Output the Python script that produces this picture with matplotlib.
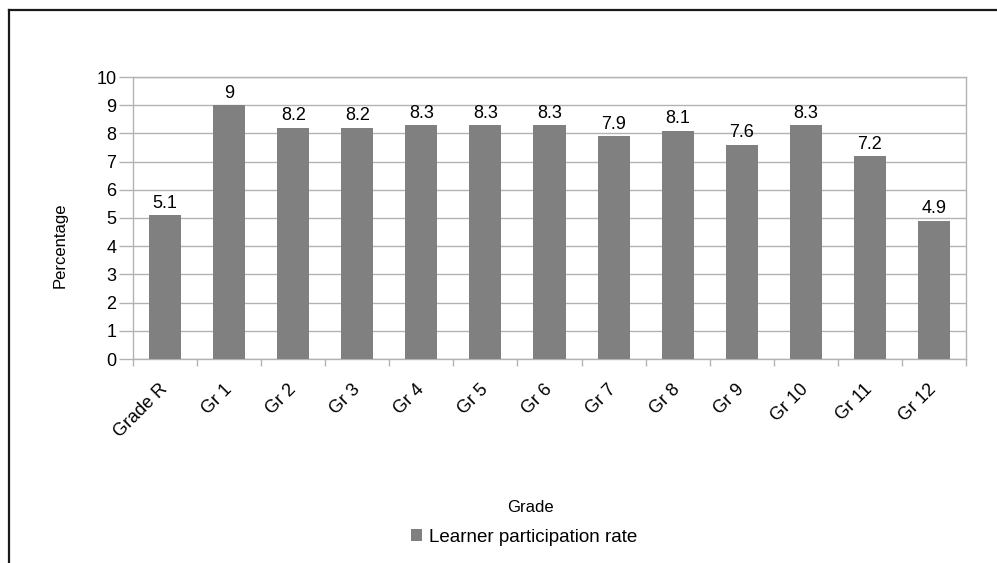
import numpy as np
import matplotlib
matplotlib.use("Agg")
import matplotlib.pyplot as plt
from matplotlib.lines import Line2D

plt.rcParams['font.family'] = ['Liberation Sans', 'DejaVu Sans']

grades = ['Grade R', 'Gr 1', 'Gr 2', 'Gr 3', 'Gr 4', 'Gr 5', 'Gr 6',
          'Gr 7', 'Gr 8', 'Gr 9', 'Gr 10', 'Gr 11', 'Gr 12']
participation = [5.1, 9, 8.2, 8.2, 8.3, 8.3, 8.3, 7.9, 8.1, 7.6, 8.3, 7.2, 4.9]
series_name = 'Learner participation rate'

W, H = 997, 563
fig = plt.figure(figsize=(W / 100, H / 100), dpi=100)
ax = fig.add_axes([133 / W, 1 - 359 / H, (966 - 133) / W, (359 - 77) / H])

grid_col = '#b3b3b3'
x = np.arange(len(grades))
bars = ax.bar(x, participation, width=0.5, color='#808080', zorder=3,
              label=series_name)

# value labels above each bar
for xi, v in zip(x, participation):
    ax.text(xi, v + 0.12, f'{v:g}', ha='center', va='bottom', fontsize=13)

ax.set_xlim(-0.5, len(grades) - 0.5)
ax.set_ylim(0, 10)
ax.set_yticks(range(0, 11))
ax.yaxis.grid(True, color=grid_col, linewidth=1, zorder=0)
ax.tick_params(axis='y', length=10, width=1, color=grid_col, labelsize=13, pad=2)

# category labels at centres, tick marks at the category boundaries
ax.set_xticks(x)
ax.set_xticklabels(grades, rotation=45, ha='right', va='center',
                   rotation_mode='anchor', fontsize=13)
ax.tick_params(axis='x', which='major', length=0, pad=20)
ax.set_xticks(np.arange(-0.5, len(grades)), minor=True)
ax.tick_params(axis='x', which='minor', length=5, width=1, color=grid_col)

for s in ax.spines.values():
    s.set_color(grid_col)
    s.set_linewidth(1)

fig.text(60 / W, 1 - 245 / H, 'Percentage', rotation=90, ha='center',
         va='center', fontsize=12)
fig.text(530 / W, 1 - 507 / H, 'Grade', ha='center', va='center', fontsize=12)

fig.legend(handles=[bars], labels=[series_name], loc='center',
           bbox_to_anchor=(524 / W, 1 - 537 / H), frameon=False,
           fontsize=13.5, handlelength=0.6, handleheight=0.6,
           handletextpad=0.4)

# outer chart border
bc = '#1a1a1a'
fig.add_artist(Line2D([8.5 / W, 8.5 / W], [0, 1 - 10 / H], color=bc, lw=1.6,
                      transform=fig.transFigure))
fig.add_artist(Line2D([8.5 / W, 1], [1 - 10 / H, 1 - 10 / H], color=bc, lw=1.6,
                      transform=fig.transFigure))

fig.savefig('out.png', dpi=100)
